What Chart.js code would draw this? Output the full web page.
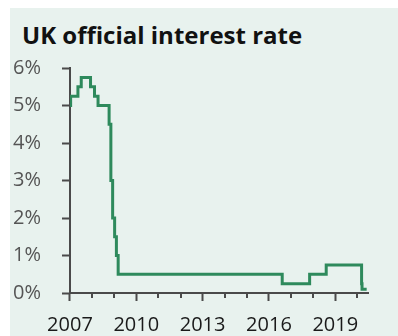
<!DOCTYPE html>
<html>
<head>
  <title>UK official interest rate</title>
  <style>
    body {
      margin: 0;
      background: #ffffff;
    }
    .chart-wrap {
      position: absolute;
      left: 10px;
      top: 8px;
      width: 388px;
      height: 328px;
      background: #e8f2ee;
      overflow: hidden;
    }
    .chart-title {
      position: absolute;
      left: 12px;
      top: 15px;
      font-family: 'Open Sans', sans-serif;
      font-weight: bold;
      font-size: 24px;
      line-height: 24px;
      color: #111111;
      white-space: nowrap;
    }
    canvas {
      position: absolute;
      left: 0;
      top: 0;
    }
  </style>
</head>
<body>
  <div class="chart-wrap">
    <div class="chart-title">UK official interest rate</div>
    <canvas id="rateChart" width="388" height="328"></canvas>
  </div>

  <script src="https://cdn.jsdelivr.net/npm/chart.js"></script>
  <script>
    // dates of each change (decimal year) and the new rate (%)
    const changeDates = [2007.0, 2007.03, 2007.36, 2007.51, 2007.93, 2008.11, 2008.27,
                         2008.77, 2008.85, 2008.93, 2009.02, 2009.1, 2009.18,
                         2016.6, 2017.84, 2018.59, 2020.19, 2020.21, 2020.42];
    const rates = [5.0, 5.25, 5.5, 5.75, 5.5, 5.25, 5.0,
                   4.5, 3.0, 2.0, 1.5, 1.0, 0.5,
                   0.25, 0.5, 0.75, 0.25, 0.1, 0.1];
    const yTicks = [0, 1, 2, 3, 4, 5, 6];
    const yearLabels = [2007, 2010, 2013, 2016, 2019];

    const axisColor = '#4a4a4a';

    // short ticks for the years without a label
    const minorTicks = {
      id: 'minorTicks',
      afterDraw(chart) {
        const x = chart.scales.x;
        const ctx = chart.ctx;
        const y0 = chart.chartArea.bottom;
        ctx.save();
        ctx.strokeStyle = axisColor;
        ctx.lineWidth = 2;
        for (let yr = 2007; yr <= 2020; yr++) {
          if (yearLabels.includes(yr)) continue;
          const px = Math.round(x.getPixelForValue(yr));
          ctx.beginPath();
          ctx.moveTo(px, y0);
          ctx.lineTo(px, y0 + 5);
          ctx.stroke();
        }
        ctx.restore();
      }
    };

    const points = changeDates.map((d, i) => ({ x: d, y: rates[i] }));

    new Chart(document.getElementById('rateChart'), {
      type: 'line',
      data: {
        datasets: [{
          data: points,
          stepped: true,
          borderColor: '#2e8a5c',
          borderWidth: 3,
          pointRadius: 0,
          fill: false
        }]
      },
      options: {
        responsive: false,
        animation: false,
        layout: { padding: { left: -18, right: 30, top: 60, bottom: -13 } },
        plugins: {
          legend: { display: false },
          tooltip: { enabled: false },
          title: { display: false }
        },
        scales: {
          x: {
            type: 'linear',
            min: 2007,
            max: 2020.48,
            grid: {
              drawOnChartArea: false,
              tickLength: 8,
              tickWidth: 2,
              tickColor: axisColor
            },
            border: { color: axisColor, width: 2 },
            afterBuildTicks: axis => {
              axis.ticks = yearLabels.map(v => ({ value: v }));
            },
            ticks: {
              autoSkip: false,
              maxRotation: 0,
              padding: 12,
              color: '#1a1a1a',
              font: { family: 'Open Sans', size: 20 },
              callback: v => String(v)
            }
          },
          y: {
            min: 0,
            max: 6,
            afterBuildTicks: axis => {
              axis.ticks = yTicks.map(v => ({ value: v }));
            },
            grid: {
              drawOnChartArea: false,
              tickLength: 8,
              tickWidth: 2,
              tickColor: axisColor
            },
            border: { color: axisColor, width: 2 },
            ticks: {
              padding: 21,
              color: '#555555',
              font: { family: 'Open Sans', size: 20 },
              callback: v => v + '%'
            }
          }
        }
      },
      plugins: [minorTicks]
    });
  </script>
</body>
</html>
